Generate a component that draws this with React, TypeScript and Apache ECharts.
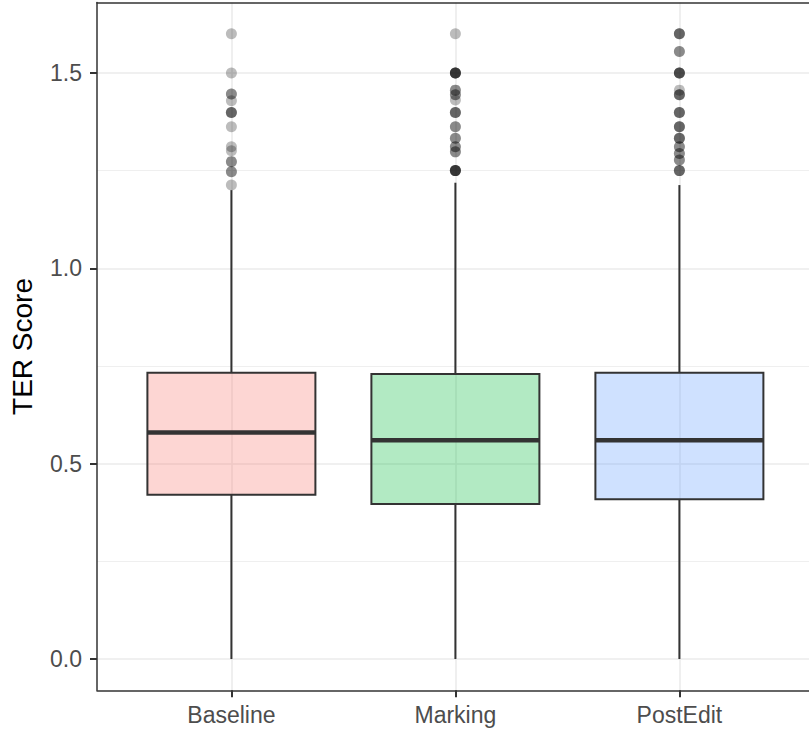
import React, { useEffect, useRef } from "react";
import * as echarts from "echarts";

// ---- Data ----
const categories = ["Baseline", "Marking", "PostEdit"];
const lowerWhisker = [0.0, 0.0, 0.0];
const q1Values = [0.4205, 0.3967, 0.4087];
const medianValues = [0.58, 0.56, 0.56];
const q3Values = [0.733, 0.7295, 0.733];
const upperWhisker = [1.2, 1.219, 1.213];

// outliers (repeated values = overlapping observations)
const outliersBaseline = [
  1.6, 1.5, 1.446, 1.446, 1.429, 1.399, 1.399, 1.399, 1.362, 1.311, 1.301,
  1.273, 1.273, 1.247, 1.247, 1.213,
];
const outliersMarking = [
  1.6, 1.5, 1.5, 1.5, 1.5, 1.5, 1.456, 1.456, 1.444, 1.444, 1.431, 1.399,
  1.399, 1.399, 1.362, 1.362, 1.333, 1.333, 1.311, 1.311, 1.298, 1.298, 1.25,
  1.25, 1.25, 1.25, 1.25,
];
const outliersPostEdit = [
  1.6, 1.6, 1.6, 1.555, 1.555, 1.5, 1.5, 1.5, 1.5, 1.456, 1.444, 1.444, 1.444,
  1.399, 1.399, 1.399, 1.362, 1.362, 1.362, 1.333, 1.333, 1.333, 1.311, 1.311,
  1.294, 1.294, 1.277, 1.277, 1.25, 1.25, 1.25,
];

const yMajorTicks = [0, 0.5, 1.0, 1.5];
const yMinorTicks = [0.25, 0.75, 1.25];
const yMin = -0.08;
const yMax = 1.68;
const xMin = 0.4;
const xMax = 3.5786; // panel continues past the right edge of the picture

const fillColors = [
  "rgba(248,118,109,0.3)",
  "rgba(0,186,56,0.3)",
  "rgba(97,156,255,0.3)",
];

const FONT = "'Liberation Sans', Arial, Helvetica, sans-serif";

export default function App() {
  const ref = useRef<HTMLDivElement>(null);

  useEffect(() => {
    document.body.style.margin = "0";
    if (!ref.current) return;
    const chart = echarts.init(ref.current, null, { renderer: "svg" });

    const boxData = categories.map((_, i) => [
      i + 1,
      lowerWhisker[i],
      q1Values[i],
      medianValues[i],
      q3Values[i],
      upperWhisker[i],
    ]);
    const outlierGroups = [outliersBaseline, outliersMarking, outliersPostEdit];
    const outlierData: number[][] = [];
    outlierGroups.forEach((arr, i) => arr.forEach((v) => outlierData.push([i + 1, v])));

    const borderLine = { show: true, lineStyle: { color: "#333333", width: 1.5 } };

    const option: any = {
      animation: false,
      backgroundColor: "#ffffff",
      grid: {
        left: 97,
        top: 2.6,
        right: 0,
        height: 687.7,
        show: false,
      },
      xAxis: [
        {
          type: "value",
          min: xMin,
          max: xMax,
          position: "bottom",
          axisLine: { ...borderLine, onZero: false },
          axisTick: {
            show: true,
            length: 7,
            customValues: [1, 2, 3],
            lineStyle: { color: "#333333", width: 2 },
          },
          axisLabel: {
            customValues: [1, 2, 3],
            formatter: (v: number) => categories[Math.round(v) - 1] ?? "",
            color: "#4D4D4D",
            fontSize: 23,
            fontFamily: FONT,
            margin: 13,
          },
          splitLine: { show: true, lineStyle: { color: "#EBEBEB", width: 1.6 } },
        },
        {
          type: "value",
          min: xMin,
          max: xMax,
          position: "top",
          axisLine: { ...borderLine, onZero: false },
          axisTick: { show: false },
          axisLabel: { show: false },
          splitLine: { show: false },
        },
      ],
      yAxis: [
        {
          type: "value",
          min: yMin,
          max: yMax,
          name: "TER Score",
          nameLocation: "middle",
          nameRotate: 90,
          nameGap: 61,
          nameTextStyle: { color: "#000000", fontSize: 28, fontFamily: FONT },
          axisLine: { ...borderLine, onZero: false },
          axisTick: {
            show: true,
            length: 7,
            customValues: yMajorTicks,
            lineStyle: { color: "#333333", width: 2 },
          },
          axisLabel: {
            customValues: yMajorTicks,
            formatter: (v: number) => v.toFixed(1),
            color: "#4D4D4D",
            fontSize: 23,
            fontFamily: FONT,
            margin: 15,
          },
          splitLine: { show: true, lineStyle: { color: "#EBEBEB", width: 1.6 } },
        },
        {
          type: "value",
          min: yMin,
          max: yMax,
          position: "left",
          axisLine: { show: false },
          axisTick: { show: false, customValues: yMinorTicks },
          axisLabel: { show: false, customValues: yMinorTicks },
          splitLine: { show: true, lineStyle: { color: "#EBEBEB", width: 0.8 } },
        },
      ],
      series: [
        {
          type: "custom",
          data: boxData,
          encode: { x: 0, y: [1, 2, 3, 4, 5] },
          renderItem: (params: any, api: any) => {
            const x = api.value(0);
            const lo = api.coord([x, api.value(1)]);
            const q1 = api.coord([x, api.value(2)]);
            const med = api.coord([x, api.value(3)]);
            const q3 = api.coord([x, api.value(4)]);
            const hi = api.coord([x, api.value(5)]);
            const halfW = api.size([0.75, 0])[0] / 2;
            const stroke = "#333333";
            return {
              type: "group",
              children: [
                {
                  type: "line",
                  shape: { x1: hi[0], y1: hi[1], x2: q3[0], y2: q3[1] },
                  style: { stroke, lineWidth: 2 },
                },
                {
                  type: "line",
                  shape: { x1: q1[0], y1: q1[1], x2: lo[0], y2: lo[1] },
                  style: { stroke, lineWidth: 2 },
                },
                {
                  type: "rect",
                  shape: {
                    x: q3[0] - halfW,
                    y: q3[1],
                    width: 2 * halfW,
                    height: q1[1] - q3[1],
                  },
                  style: {
                    fill: fillColors[params.dataIndex],
                    stroke,
                    lineWidth: 2,
                  },
                },
                {
                  type: "line",
                  shape: {
                    x1: med[0] - halfW,
                    y1: med[1],
                    x2: med[0] + halfW,
                    y2: med[1],
                  },
                  style: { stroke, lineWidth: 4.5 },
                },
              ],
            };
          },
        },
        {
          type: "scatter",
          data: outlierData,
          symbol: "circle",
          symbolSize: 11,
          itemStyle: { color: "rgba(0,0,0,0.33)" },
        },
      ],
    };

    chart.setOption(option);
    return () => chart.dispose();
  }, []);

  return <div ref={ref} style={{ width: 809, height: 729 }} />;
}
